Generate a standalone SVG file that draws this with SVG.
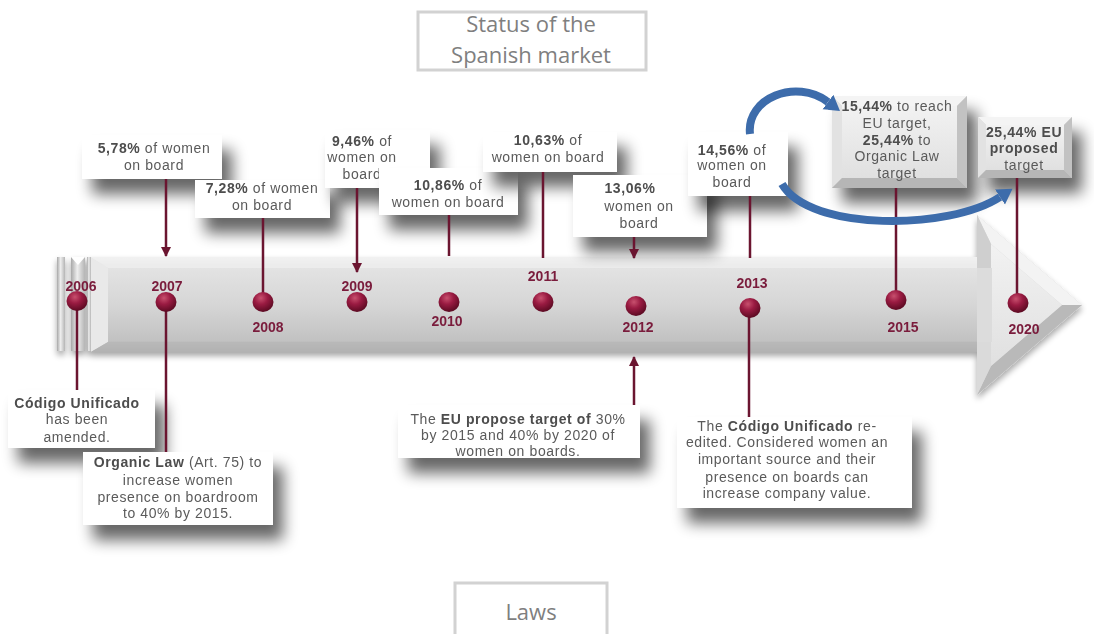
<svg xmlns="http://www.w3.org/2000/svg" width="1094" height="634" viewBox="0 0 1094 634">
<style>
.t{font-family:"Liberation Sans",Arial,sans-serif;font-size:14px;fill:#5a5a5a;letter-spacing:0.6px;text-anchor:middle}
.b{font-weight:bold;fill:#4d4d4d}
.yr{font-family:"Liberation Sans",Arial,sans-serif;font-size:14px;font-weight:bold;fill:#7a1c3c;text-anchor:middle}
.ttl{font-family:"Open Sans",sans-serif;font-size:22px;fill:#7f7f7f;text-anchor:middle}
.frame{fill:#ffffff;stroke:#d2d2d2;stroke-width:3}
.box{fill:#ffffff;filter:url(#sh)}
.ln{stroke:#6b1530;stroke-width:2.5;fill:none}
.arr{marker-end:url(#ah)}
.blue{stroke:#3d6cab;stroke-width:8;fill:none;marker-end:url(#bh)}
.dot{fill:url(#dotG)}
</style>
<defs>
<filter id="sh" x="-30%" y="-40%" width="175%" height="220%">
<feGaussianBlur in="SourceAlpha" stdDeviation="7.5"/>
<feOffset dx="10" dy="15" result="o"/>
<feComponentTransfer><feFuncA type="linear" slope="0.6"/></feComponentTransfer>
<feMerge><feMergeNode/><feMergeNode in="SourceGraphic"/></feMerge>
</filter>
<filter id="ash" x="-5%" y="-20%" width="110%" height="150%">
<feGaussianBlur in="SourceAlpha" stdDeviation="3"/>
<feOffset dx="0" dy="4"/>
<feComponentTransfer><feFuncA type="linear" slope="0.35"/></feComponentTransfer>
<feMerge><feMergeNode/><feMergeNode in="SourceGraphic"/></feMerge>
</filter>
<linearGradient id="bodyG" x1="0" y1="0" x2="0" y2="1">
<stop offset="0" stop-color="#f6f6f6"/>
<stop offset="0.08" stop-color="#e4e4e4"/>
<stop offset="0.5" stop-color="#d6d6d6"/>
<stop offset="0.88" stop-color="#c2c2c2"/>
<stop offset="1" stop-color="#999999"/>
</linearGradient>
<linearGradient id="stripG" x1="0" y1="0" x2="1" y2="0">
<stop offset="0" stop-color="#a8a8a8"/>
<stop offset="0.45" stop-color="#eeeeee"/>
<stop offset="1" stop-color="#b4b4b4"/>
</linearGradient>
<linearGradient id="innerG" x1="0" y1="0" x2="0" y2="1">
<stop offset="0" stop-color="#f2f2f2"/>
<stop offset="1" stop-color="#e0e0e0"/>
</linearGradient>
<radialGradient id="dotG" cx="0.4" cy="0.3" r="0.7">
<stop offset="0" stop-color="#c8506e"/>
<stop offset="0.45" stop-color="#9a1b42"/>
<stop offset="1" stop-color="#5c0a22"/>
</radialGradient>
<marker id="ah" viewBox="0 0 10 10" refX="9" refY="5" markerWidth="10" markerHeight="10" markerUnits="userSpaceOnUse" orient="auto">
<path d="M0,0 L10,5 L0,10 z" fill="#6b1530"/>
</marker>
<marker id="bh" viewBox="0 -10 16 20" refX="0" refY="0" markerWidth="16" markerHeight="20" markerUnits="userSpaceOnUse" orient="auto">
<path d="M0,-9 L15,0 L0,9 z" fill="#3d6cab"/>
</marker>
</defs>

<rect width="1094" height="634" fill="#ffffff"/>

<g id="title">
<rect class="frame" x="418" y="12" width="228" height="58"/>
<text class="ttl" x="531" y="32">Status of the</text>
<text class="ttl" x="531" y="63">Spanish market</text>
</g>

<g id="laws">
<rect class="frame" x="455" y="583" width="152" height="60"/>
<text class="ttl" x="531" y="620">Laws</text>
</g>

<g id="timeline" filter="url(#ash)">
<rect x="57" y="257" width="8" height="94" fill="url(#stripG)"/>
<rect x="71" y="257" width="14" height="94" fill="url(#stripG)"/>
<path d="M71,257 L78,265 L85,257 z" fill="#ffffff"/>
<rect x="87" y="257" width="4" height="94" fill="url(#stripG)"/>
<rect x="91" y="257" width="900" height="95" fill="url(#bodyG)"/>
<path d="M91,257 L108,268 L108,342 L91,352 z" fill="#e9e9e9"/>
<path d="M91,257 L108,268 L991,268 L991,257 z" fill="#efefef" opacity="0.7"/>
<path d="M91,352 L108,342 L991,342 L991,352 z" fill="#b8b8b8" opacity="0.8"/>
<polygon points="977,215 1082,305 977,395" fill="#d6d6d6"/>
<polygon points="977,215 1082,305 1062,305 991,244" fill="#f3f3f3"/>
<polygon points="977,215 991,244 991,268 977,268" fill="#cfcfcf"/>
<polygon points="991,366 1062,305 1082,305 977,395" fill="#b9b9b9"/>
<polygon points="977,342 991,342 991,366 977,395" fill="#dadada"/>
<polygon points="991,244 1062,305 991,366" fill="url(#innerG)"/>
<rect x="977" y="268" width="15" height="74" fill="#dcdcdc"/>
</g>

<g id="box-2006-top-578">
<rect class="box" x="82" y="135" width="140" height="44"/>
<text class="t" x="154" y="153"><tspan class="b">5,78%</tspan> of women</text>
<text class="t" x="154" y="170">on board</text>
</g>
<g id="box-2008-728">
<rect class="box" x="195" y="180" width="135" height="38"/>
<text class="t" x="262" y="193"><tspan class="b">7,28%</tspan> of women</text>
<text class="t" x="262" y="210">on board</text>
</g>
<g id="box-2009-946">
<rect class="box" x="325" y="130" width="105" height="58"/>
<text class="t" x="362" y="146"><tspan class="b">9,46%</tspan> of</text>
<text class="t" x="362" y="162">women on</text>
<text class="t" x="362" y="179">board</text>
</g>
<g id="box-2010-1086">
<rect class="box" x="379" y="168" width="139" height="47"/>
<text class="t" x="448" y="190"><tspan class="b">10,86%</tspan> of</text>
<text class="t" x="448" y="207">women on board</text>
</g>
<g id="box-2011-1063">
<rect class="box" x="483" y="132" width="134" height="40"/>
<text class="t" x="548" y="145"><tspan class="b">10,63%</tspan> of</text>
<text class="t" x="548" y="162">women on board</text>
</g>
<g id="box-2012-1306">
<rect class="box" x="573" y="175" width="134" height="62"/>
<text class="t" x="630" y="193"><tspan class="b">13,06%</tspan></text>
<text class="t" x="639" y="211">women on</text>
<text class="t" x="639" y="228">board</text>
</g>
<g id="box-2013-1456">
<rect class="box" x="688" y="132" width="100" height="64"/>
<text class="t" x="732" y="155"><tspan class="b">14,56%</tspan> of</text>
<text class="t" x="732" y="170">women on</text>
<text class="t" x="732" y="187">board</text>
</g>
<g id="box-2015-1544">
<rect x="832" y="96" width="135" height="92" fill="#d6d6d6" filter="url(#sh)"/>
<polygon points="832,96 967,96 957,106 842,106" fill="#f4f4f4"/>
<polygon points="832,96 842,106 842,178 832,188" fill="#e2e2e2"/>
<polygon points="967,96 967,188 957,178 957,106" fill="#c2c2c2"/>
<polygon points="832,188 842,178 957,178 967,188" fill="#b6b6b6"/>
<rect x="842" y="106" width="115" height="72" fill="url(#innerG)"/>
<text class="t" x="897" y="111"><tspan class="b">15,44%</tspan> to reach</text>
<text class="t" x="897" y="128">EU target,</text>
<text class="t" x="897" y="145"><tspan class="b">25,44%</tspan> to</text>
<text class="t" x="897" y="161">Organic Law</text>
<text class="t" x="897" y="178">target</text>
</g>
<g id="box-2020-2544">
<rect x="978" y="117" width="94" height="61" fill="#d6d6d6" filter="url(#sh)"/>
<polygon points="978,117 1072,117 1064,125 986,125" fill="#f4f4f4"/>
<polygon points="978,117 986,125 986,170 978,178" fill="#e2e2e2"/>
<polygon points="1072,117 1072,178 1064,170 1064,125" fill="#c2c2c2"/>
<polygon points="978,178 986,170 1064,170 1072,178" fill="#b6b6b6"/>
<rect x="986" y="125" width="78" height="45" fill="url(#innerG)"/>
<text class="t" x="1024" y="137"><tspan class="b">25,44% EU</tspan></text>
<text class="t" x="1024" y="153"><tspan class="b">proposed</tspan></text>
<text class="t" x="1024" y="170">target</text>
</g>

<g id="box-codigo-2006">
<rect class="box" x="8" y="390" width="147" height="58"/>
<text class="t" x="77" y="408"><tspan class="b">Código Unificado</tspan></text>
<text class="t" x="77" y="424">has been</text>
<text class="t" x="77" y="442">amended.</text>
</g>
<g id="box-organic-law">
<rect class="box" x="83" y="452" width="190" height="73"/>
<text class="t" x="178" y="467"><tspan class="b">Organic Law</tspan> (Art. 75) to</text>
<text class="t" x="178" y="485">increase women</text>
<text class="t" x="178" y="502">presence on boardroom</text>
<text class="t" x="178" y="518">to 40% by 2015.</text>
</g>
<g id="box-eu-target">
<rect class="box" x="398" y="405" width="242" height="53"/>
<text class="t" x="518" y="424">The <tspan class="b">EU propose target of</tspan> 30%</text>
<text class="t" x="518" y="440">by 2015 and 40% by 2020 of</text>
<text class="t" x="518" y="456">women on boards.</text>
</g>
<g id="box-codigo-2013">
<rect class="box" x="677" y="417" width="235" height="91"/>
<text class="t" x="787" y="431">The <tspan class="b">Código Unificado</tspan> re-</text>
<text class="t" x="787" y="447">edited. Considered  women an</text>
<text class="t" x="787" y="464">important source and their</text>
<text class="t" x="787" y="482">presence on boards can</text>
<text class="t" x="787" y="498">increase company value.</text>
</g>

<g id="connectors">
<line class="ln arr" x1="166" y1="179" x2="166" y2="256"/>
<line class="ln" x1="263" y1="218" x2="263" y2="298"/>
<line class="ln arr" x1="357" y1="188" x2="357" y2="272"/>
<line class="ln" x1="449" y1="215" x2="449" y2="256"/>
<line class="ln" x1="543" y1="172" x2="543" y2="258"/>
<line class="ln arr" x1="634" y1="237" x2="634" y2="258"/>
<line class="ln" x1="750" y1="196" x2="750" y2="258"/>
<line class="ln" x1="896" y1="188" x2="896" y2="298"/>
<line class="ln" x1="1017" y1="178" x2="1017" y2="300"/>
<line class="ln" x1="77" y1="301" x2="77" y2="390"/>
<line class="ln" x1="166" y1="302" x2="166" y2="452"/>
<line class="ln arr" x1="634" y1="405" x2="634" y2="357"/>
<line class="ln" x1="749" y1="308" x2="749" y2="417"/>
<path class="blue" d="M750,134 C746,98 796,78 828,102"/>
<path class="blue" d="M782,184 C810,232 950,230 1000,197"/>
</g>

<g id="y2006"><ellipse class="dot" cx="77" cy="301" rx="10.5" ry="10"/><text class="yr" x="81" y="291">2006</text></g>
<g id="y2007"><ellipse class="dot" cx="166" cy="302" rx="10.5" ry="10"/><text class="yr" x="167" y="291">2007</text></g>
<g id="y2008"><ellipse class="dot" cx="263" cy="302" rx="10.5" ry="10"/><text class="yr" x="268" y="332">2008</text></g>
<g id="y2009"><ellipse class="dot" cx="357" cy="302" rx="10.5" ry="10"/><text class="yr" x="357" y="291">2009</text></g>
<g id="y2010"><ellipse class="dot" cx="449" cy="302" rx="10.5" ry="10"/><text class="yr" x="447" y="326">2010</text></g>
<g id="y2011"><ellipse class="dot" cx="543" cy="302" rx="10.5" ry="10"/><text class="yr" x="543" y="281">2011</text></g>
<g id="y2012"><ellipse class="dot" cx="636" cy="306" rx="10.5" ry="10"/><text class="yr" x="638" y="332">2012</text></g>
<g id="y2013"><ellipse class="dot" cx="750" cy="308" rx="10.5" ry="10"/><text class="yr" x="752" y="288">2013</text></g>
<g id="y2015"><ellipse class="dot" cx="896" cy="300" rx="10.5" ry="10"/><text class="yr" x="903" y="332">2015</text></g>
<g id="y2020"><ellipse class="dot" cx="1018" cy="303" rx="10.5" ry="10"/><text class="yr" x="1024" y="334">2020</text></g>
</svg>
